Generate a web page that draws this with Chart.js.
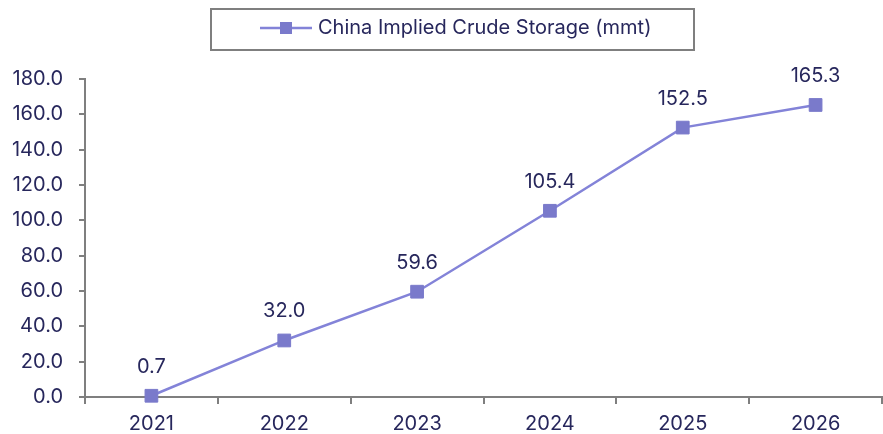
<!DOCTYPE html>
<html>
<head>
<meta charset="utf-8">
<script src="https://cdn.jsdelivr.net/npm/chart.js@4"></script>
<style>
  html, body { margin: 0; padding: 0; background: #ffffff; overflow: hidden; }
  #wrap { width: 883px; height: 434px; position: relative; }
</style>
</head>
<body>
<div id="wrap"><canvas id="storageChart"></canvas></div>
<script>
// chart data
const years = ["2021", "2022", "2023", "2024", "2025", "2026"];
const storage = [0.7, 32.0, 59.6, 105.4, 152.5, 165.3];
const seriesName = "China Implied Crude Storage (mmt)";

const TEXT = "#27275c";
const LINE = "#8383d8";
const MARK = "#7a7acb";
const AXIS = "#7f7f7f";
const FONT = "Inter, 'DejaVu Sans', sans-serif";
const SIZE = 20;

// value labels above each point + boxed legend at the top
const overlay = {
  id: "overlay",
  afterDatasetsDraw(chart) {
    const ctx = chart.ctx;
    const meta = chart.getDatasetMeta(0);
    ctx.save();
    ctx.fillStyle = TEXT;
    ctx.font = SIZE + "px " + FONT;
    ctx.textAlign = "center";
    ctx.textBaseline = "middle";
    meta.data.forEach((pt, i) => {
      ctx.fillText(storage[i].toFixed(1), pt.x, pt.y - 29);
    });

    // legend box
    ctx.strokeStyle = AXIS;
    ctx.lineWidth = 2;
    ctx.strokeRect(211, 9, 483, 41);
    ctx.strokeStyle = LINE;
    ctx.lineWidth = 2.5;
    ctx.beginPath();
    ctx.moveTo(260, 28);
    ctx.lineTo(312, 28);
    ctx.stroke();
    ctx.fillStyle = MARK;
    ctx.fillRect(280, 22, 12, 12);
    ctx.fillStyle = TEXT;
    ctx.textAlign = "left";
    ctx.fillText(seriesName, 318, 28);
    ctx.restore();
  }
};

new Chart(document.getElementById("storageChart"), {
  type: "line",
  data: {
    labels: years,
    datasets: [{
      label: seriesName,
      data: storage,
      borderColor: LINE,
      borderWidth: 2.5,
      pointStyle: "rect",
      pointRadius: 9,
      pointHoverRadius: 9,
      pointBackgroundColor: MARK,
      pointBorderColor: MARK,
      pointBorderWidth: 1,
      tension: 0,
      clip: false
    }]
  },
  options: {
    responsive: true,
    maintainAspectRatio: false,
    animation: false,
    layout: { autoPadding: false, padding: { top: 79, right: 1, left: 0, bottom: 0 } },
    plugins: {
      legend: { display: false },
      tooltip: { enabled: false }
    },
    scales: {
      x: {
        offset: true,
        grid: {
          offset: true,
          drawOnChartArea: false,
          drawTicks: true,
          tickLength: 7,
          tickColor: AXIS,
          lineWidth: 2
        },
        border: { color: AXIS, width: 2 },
        ticks: { color: TEXT, font: { family: FONT, size: SIZE }, padding: 8 },
        afterFit(scale) { scale.height = 37; }
      },
      y: {
        min: 0,
        max: 180,
        grid: {
          drawOnChartArea: false,
          tickLength: 6,
          tickColor: AXIS,
          lineWidth: 2
        },
        border: { color: AXIS, width: 2 },
        ticks: {
          stepSize: 20,
          color: TEXT,
          font: { family: FONT, size: SIZE },
          padding: 16,
          callback: v => v.toFixed(1)
        },
        afterFit(scale) { scale.width = 85; }
      }
    }
  },
  plugins: [overlay]
});
</script>
</body>
</html>
